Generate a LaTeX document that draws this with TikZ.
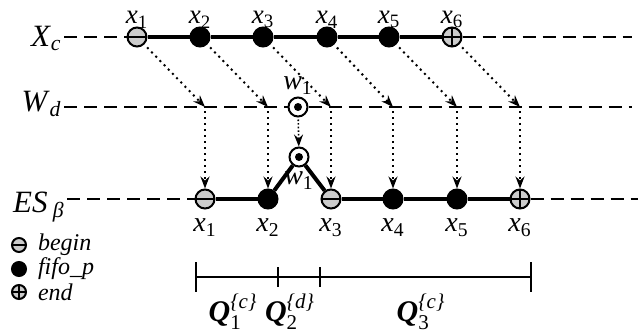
\documentclass[tikz,border=0pt]{standalone}
\usepackage{amsmath}
\usepackage{fontspec}
\setmainfont{Liberation Serif}
\usetikzlibrary{positioning, arrows.meta}
\tikzset{
  ptnode/.style={circle, draw=black, line width=1pt, minimum size=9.5pt, inner sep=0pt},
  beginpt/.style={ptnode, fill=gray!40, path picture={\draw[line width=0.6pt] (path picture bounding box.west) -- (path picture bounding box.east);}},
  fifopt/.style={ptnode, fill=black},
  endpt/.style={ptnode, fill=gray!40, path picture={\draw[line width=0.6pt] (path picture bounding box.west) -- (path picture bounding box.east) (path picture bounding box.north) -- (path picture bounding box.south);}},
  wpt/.style={ptnode, fill=white, path picture={\fill[black] (path picture bounding box.center) circle (2pt);}},
  rowlabel/.style={anchor=base east, inner sep=1pt, font=\fontsize{15.5}{17}\selectfont},
  axis/.style={line width=1pt, dash pattern=on 6.5pt off 3.5pt},
  seq/.style={line width=2pt},
  arrow/.style={line width=1pt, dotted, -{Stealth[length=6pt, width=4.5pt, inset=2pt]}, shorten <=2pt},
  warrow/.style={line width=0.8pt, densely dotted, -{Stealth[length=6pt, width=4.5pt, inset=2pt]}, shorten <=1pt},
  up/.style={label={[label distance=-1.5pt, inner sep=0.5pt, font=\fontsize{13.5}{15}\selectfont]above:#1}},
  down/.style={label={[label distance=1.5pt, inner sep=3pt]below:#1}},
  legend/.style={font=\fontsize{12}{14}\selectfont\itshape},
  tick/.style={line width=1pt},
  qlabel/.style={font=\fontsize{15}{17}\selectfont}
}
\begin{document}
\begin{tikzpicture}[x=0.5pt, y=-0.5pt, every node/.style={font=\fontsize{14}{16}\selectfont}]
\useasboundingbox (0,0) rectangle (640,332);

% rows
\node[rowlabel] (xc) at (64,46) {\textit{X}\textsubscript{\textit{c}}};
\node[rowlabel] (wd) at (64,111) {\textit{W}\textsubscript{\textit{d}}};
\node[rowlabel] (es) at (67,212) {\textit{ES}\,\textsubscript{\textit{β}}};

% X_c
\node[beginpt, up={\textit{x}\textsubscript{1}}] (c1) at (137,37) {};
\node[fifopt, up={\textit{x}\textsubscript{2}}] (c2) at (200,37) {};
\node[fifopt, up={\textit{x}\textsubscript{3}}] (c3) at (263,37) {};
\node[fifopt, up={\textit{x}\textsubscript{4}}] (c4) at (327,37) {};
\node[fifopt, up={\textit{x}\textsubscript{5}}] (c5) at (389,37) {};
\node[endpt, up={\textit{x}\textsubscript{6}}] (c6) at (452,37) {};
\coordinate (cend) at (632,37);

% W_d
\node[wpt, label={[inner sep=1pt]above:\textit{w}\textsubscript{1}}] (wup) at (298,107) {};
\coordinate (d1) at (205,107);
\coordinate (d2) at (268,107);
\coordinate (d3) at (331,107);
\coordinate (d4) at (393,107);
\coordinate (d5) at (457,107);
\coordinate (d6) at (520,107);
\coordinate (wend) at (632,107);

% ES_beta
\node[beginpt, down={\textit{x}\textsubscript{1}}] (e1) at (205,199) {};
\node[fifopt, down={\textit{x}\textsubscript{2}}] (e2) at (268,199) {};
\node[wpt, label={[inner sep=2pt]below:\textit{w}\textsubscript{1}}] (wlo) at (299,157) {};
\node[beginpt, down={\textit{x}\textsubscript{3}}] (e3) at (331,199) {};
\node[fifopt, down={\textit{x}\textsubscript{4}}] (e4) at (393,199) {};
\node[fifopt, down={\textit{x}\textsubscript{5}}] (e5) at (457,199) {};
\node[endpt, down={\textit{x}\textsubscript{6}}] (e6) at (520,199) {};
\coordinate (eend) at (638,199);

\draw[axis] (xc.east |- c1) -- (c1);
\draw[axis] (c6) -- (cend);
\draw[axis] (wd.east |- wup) -- (wup);
\draw[axis] (wup) -- (wend);
\draw[axis] (es.east |- e1) -- (e1);
\draw[axis] (e6) -- (eend);

\draw[seq] (c1) -- (c2) -- (c3) -- (c4) -- (c5) -- (c6);
\draw[seq] (e1) -- (e2);
\draw[seq] (e2) -- (wlo);
\draw[seq] (wlo) -- (e3);
\draw[seq] (e3) -- (e4) -- (e5) -- (e6);

% mapping
\foreach \i in {1,...,6} {
  \draw[arrow] (c\i) -- (d\i);
  \draw[arrow] (d\i) -- (e\i);
}
\draw[warrow] (wup) -- (wlo);

% legend
\node[beginpt, minimum size=7pt] (lb) at (19,245) {};
\node[legend, right=2pt of lb] (lbt) {begin};
\node[fifopt, minimum size=7pt] (lf) at (19,269) {};
\node[legend, right=2pt of lf] (lft) {fifo\_p};
\node[endpt, minimum size=7pt] (le) at (19,292) {};
\node[legend, right=2pt of le] (let) {end};

% segments
\coordinate (t0) at (196,277);
\coordinate (t1) at (278,277);
\coordinate (t2) at (320,277);
\coordinate (t3) at (531,277);
\draw[tick] (t0) -- (t3);
\draw[tick] ([yshift=7.5pt]t0) -- ([yshift=-7.5pt]t0);
\draw[tick] ([yshift=5pt]t1) -- ([yshift=-5pt]t1);
\draw[tick] ([yshift=5pt]t2) -- ([yshift=-5pt]t2);
\draw[tick] ([yshift=7.5pt]t3) -- ([yshift=-7.5pt]t3);
\node[qlabel] (q1) at (233,312) {$\textbf{\textit{Q}}^{\textit{\{c\}}}_{\text{1}}$};
\node[qlabel] (q2) at (290,312) {$\textbf{\textit{Q}}^{\textit{\{d\}}}_{\text{2}}$};
\node[qlabel] (q3) at (421,312) {$\textbf{\textit{Q}}^{\textit{\{c\}}}_{\text{3}}$};
\end{tikzpicture}
\end{document}
